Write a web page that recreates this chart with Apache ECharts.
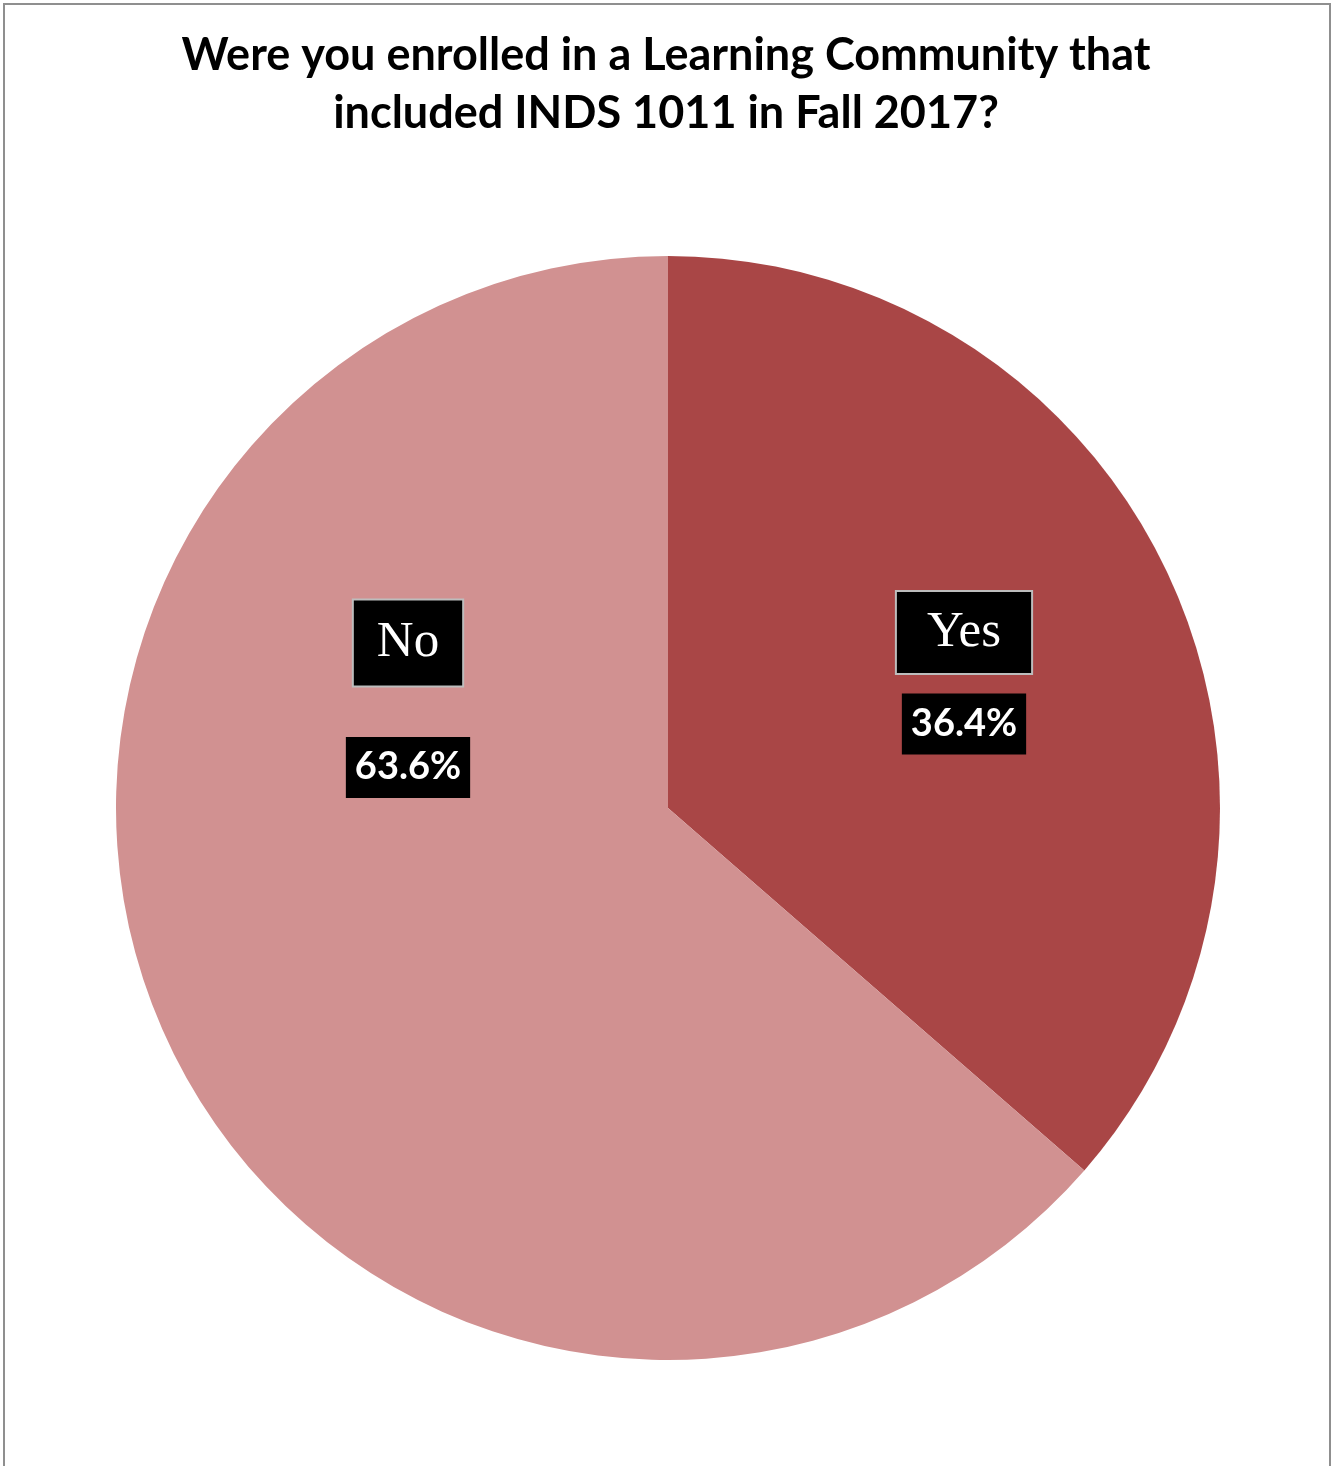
<!DOCTYPE html>
<html>
<head>
<meta charset="utf-8">
<style>
  html, body { margin: 0; padding: 0; background: #fff; }
  #chart { width: 1332px; height: 1466px; }
</style>
<script src="https://cdn.jsdelivr.net/npm/echarts@6/dist/echarts.min.js"></script>
</head>
<body>
<div id="chart"></div>
<script>
// Survey answers and their shares (percent)
const categories = ['Yes', 'No'];
const shares = [36.4, 63.6];
const sliceColors = ['#A94646', '#D19191'];

const chartTitle = 'Were you enrolled in a Learning Community that\nincluded INDS 1011 in Fall 2017?';

// Label placement (centre of each name + percent block) and spacer line between the two boxes
const labelCentres = [[964, 675], [408, 702]];
const spacerHeights = [47, 80];

const chart = echarts.init(document.getElementById('chart'), null, { renderer: 'canvas' });

const pieData = categories.map((name, i) => ({
  name: name,
  value: shares[i],
  itemStyle: { color: sliceColors[i] }
}));

const nameBox = (padY, padX) => ({
  fontFamily: 'Liberation Serif',
  fontSize: 51,
  lineHeight: 51,
  color: '#fff',
  backgroundColor: '#000',
  borderColor: '#bdbdbd',
  borderWidth: 2,
  padding: [padY, padX, padY, padX],
  align: 'center'
});
const spacer = h => ({ fontSize: 1, lineHeight: h, height: h, align: 'center' });

chart.setOption({
  backgroundColor: '#ffffff',
  animation: false,
  title: {
    text: chartTitle,
    left: 'center',
    top: 21,
    textStyle: {
      fontFamily: 'Lato',
      fontWeight: 'bold',
      fontSize: 45,
      lineHeight: 58,
      color: '#000'
    }
  },
  graphic: [{
    type: 'rect',
    shape: { x: 4, y: 4, width: 1326, height: 1480 },
    style: { fill: 'none', stroke: '#8f8f8f', lineWidth: 2 },
    silent: true
  }],
  series: [{
    type: 'pie',
    center: [668, 808],
    radius: 552,
    startAngle: 90,
    clockwise: true,
    emphasis: { disabled: true },
    labelLine: { show: false },
    label: {
      show: true,
      position: 'inside',
      formatter: p => '{n' + p.dataIndex + '|' + p.name + '}\n{g' + p.dataIndex + '| }\n{p|' + p.value.toFixed(1) + '%}',
      rich: {
        n0: nameBox(15, 30),
        n1: nameBox(17, 23),
        g0: spacer(spacerHeights[0]),
        g1: spacer(spacerHeights[1]),
        p: {
          fontFamily: 'Lato',
          fontWeight: 'bold',
          fontSize: 38,
          lineHeight: 38,
          color: '#fff',
          backgroundColor: '#000',
          padding: [11, 9, 12, 9],
          align: 'center'
        }
      }
    },
    labelLayout: function (params) {
      const c = labelCentres[params.dataIndex];
      return { x: c[0], y: c[1], align: 'center', verticalAlign: 'middle' };
    },
    data: pieData
  }]
});
</script>
</body>
</html>
